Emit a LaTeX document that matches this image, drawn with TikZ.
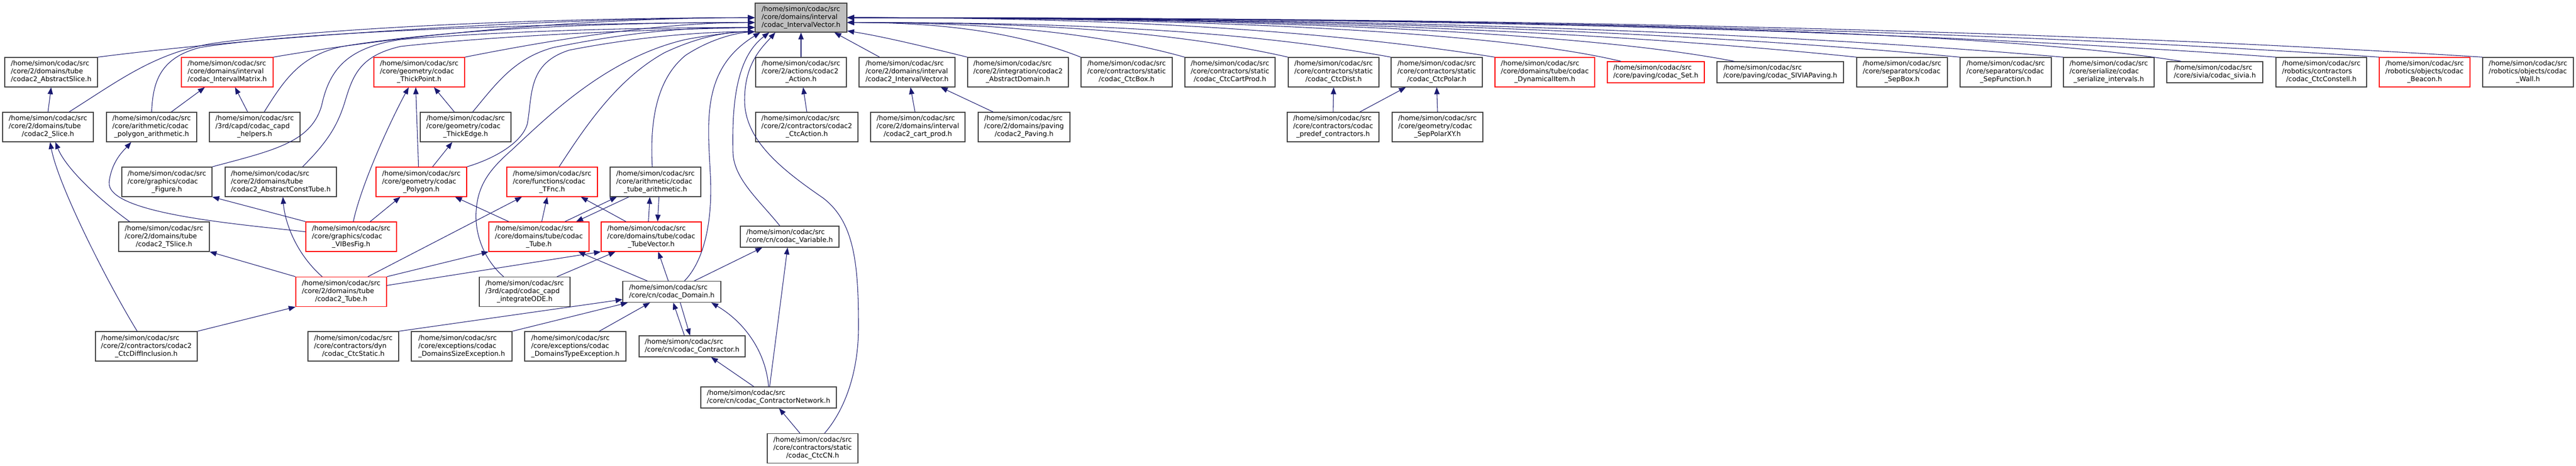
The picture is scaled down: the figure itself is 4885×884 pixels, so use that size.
\documentclass[tikz,border=0pt]{standalone}
\usepackage{fontspec}
\setmainfont{DejaVu Sans}
\usetikzlibrary{arrows.meta}
\definecolor{edgeblue}{RGB}{25,25,112}
\definecolor{boxgray}{RGB}{64,64,64}
\definecolor{rootfill}{RGB}{191,191,191}
\definecolor{boxred}{RGB}{255,0,0}
\newcommand{\lblfont}{\fontsize{9.6}{11.25}\selectfont}
\newcommand{\lblc}[3]{\begin{tabular}{@{}l@{}}#1\\#2\\\multicolumn{1}{@{}c@{}}{#3}\end{tabular}}
\newcommand{\lblb}[2]{\begin{tabular}{@{}l@{}}#1\\\multicolumn{1}{@{}c@{}}{#2}\end{tabular}}
\newcommand{\homesrc}{/home/simon/codac/src}
\tikzset{
  box/.style={draw=boxgray, fill=white, line width=1pt, inner sep=0pt, font=\lblfont},
  redbox/.style={box, draw=boxred},
  rootbox/.style={box, fill=rootfill},
  wh/.style 2 args={minimum width=#1*0.75pt, minimum height=#2*0.75pt},
  dep/.style={draw=edgeblue, line width=0.8pt, -{Triangle[length=9.75pt,width=7.5pt]}},
}
\begin{document}
\begin{tikzpicture}[x=0.75pt,y=-0.75pt]
\useasboundingbox (0,0) rectangle (4885,884);
% ---- row 0
\node[rootbox,wh={174}{55}] (root) at (1519,33.5) {\lblc{\homesrc}{/core/domains/interval}{/codac\_IntervalVector.h}};
% ---- row 1
\node[box,wh={176}{56}] (aslice) at (97,137) {\lblc{\homesrc}{/core/2/domains/tube}{/codac2\_AbstractSlice.h}};
\node[redbox,wh={174}{56}] (imat) at (431,137) {\lblc{\homesrc}{/core/domains/interval}{/codac\_IntervalMatrix.h}};
\node[redbox,wh={172}{56}] (tpoint) at (795,137) {\lblc{\homesrc}{/core/geometry/codac}{\_ThickPoint.h}};
\node[box,wh={172}{56}] (action) at (1519,137) {\lblc{\homesrc}{/core/2/actions/codac2}{\_Action.h}};
\node[box,wh={182}{56}] (iv2) at (1720,137) {\lblc{\homesrc}{/core/2/domains/interval}{/codac2\_IntervalVector.h}};
\node[box,wh={191}{56}] (adom) at (1930.5,137) {\lblc{\homesrc}{/core/2/integration/codac2}{\_AbstractDomain.h}};
\node[box,wh={173}{56}] (ctcbox) at (2136.5,137) {\lblc{\homesrc}{/core/contractors/static}{/codac\_CtcBox.h}};
\node[box,wh={171}{56}] (ctccart) at (2332.5,137) {\lblc{\homesrc}{/core/contractors/static}{/codac\_CtcCartProd.h}};
\node[box,wh={172}{56}] (ctcdist) at (2529,137) {\lblc{\homesrc}{/core/contractors/static}{/codac\_CtcDist.h}};
\node[box,wh={173}{56}] (ctcpolar) at (2724.5,137) {\lblc{\homesrc}{/core/contractors/static}{/codac\_CtcPolar.h}};
\node[redbox,wh={189}{56}] (dyn) at (2929.5,137) {\lblc{\homesrc}{/core/domains/tube/codac}{\_DynamicalItem.h}};
\node[redbox,wh={184}{40}] (set) at (3140,137) {\lblb{\homesrc}{/core/paving/codac\_Set.h}};
\node[box,wh={240}{40}] (siviap) at (3376,137) {\lblb{\homesrc}{/core/paving/codac\_SIVIAPaving.h}};
\node[box,wh={172}{56}] (sepbox) at (3607,137) {\lblc{\homesrc}{/core/separators/codac}{\_SepBox.h}};
\node[box,wh={173}{56}] (sepfun) at (3803.5,137) {\lblc{\homesrc}{/core/separators/codac}{\_SepFunction.h}};
\node[box,wh={172}{56}] (serial) at (3999,137) {\lblc{\homesrc}{/core/serialize/codac}{\_serialize\_intervals.h}};
\node[box,wh={182}{40}] (sivia) at (4200,137) {\lblb{\homesrc}{/core/sivia/codac\_sivia.h}};
\node[box,wh={172}{56}] (constell) at (4402,137) {\lblc{\homesrc}{/robotics/contractors}{/codac\_CtcConstell.h}};
\node[redbox,wh={172}{56}] (beacon) at (4598,137) {\lblc{\homesrc}{/robotics/objects/codac}{\_Beacon.h}};
\node[box,wh={172}{56}] (wall) at (4794,137) {\lblc{\homesrc}{/robotics/objects/codac}{\_Wall.h}};
% ---- row 2
\node[box,wh={172}{56}] (slice) at (91,241) {\lblc{\homesrc}{/core/2/domains/tube}{/codac2\_Slice.h}};
\node[box,wh={171}{56}] (polyar) at (287.5,241) {\lblc{\homesrc}{/core/arithmetic/codac}{\_polygon\_arithmetic.h}};
\node[box,wh={172}{56}] (helpers) at (483,241) {\lblc{\homesrc}{/3rd/capd/codac\_capd}{\_helpers.h}};
\node[box,wh={172}{56}] (tedge) at (883,241) {\lblc{\homesrc}{/core/geometry/codac}{\_ThickEdge.h}};
\node[box,wh={194}{56}] (ctcaction) at (1530,241) {\lblc{\homesrc}{/core/2/contractors/codac2}{\_CtcAction.h}};
\node[box,wh={179}{56}] (cart) at (1740.5,241) {\lblc{\homesrc}{/core/2/domains/interval}{/codac2\_cart\_prod.h}};
\node[box,wh={174}{56}] (paving) at (1942,241) {\lblc{\homesrc}{/core/2/domains/paving}{/codac2\_Paving.h}};
\node[box,wh={174}{56}] (predef) at (2528,241) {\lblc{\homesrc}{/core/contractors/codac}{\_predef\_contractors.h}};
\node[box,wh={172}{56}] (seppxy) at (2726,241) {\lblc{\homesrc}{/core/geometry/codac}{\_SepPolarXY.h}};
% ---- row 3
\node[box,wh={171}{56}] (figure) at (316.5,345) {\lblc{\homesrc}{/core/graphics/codac}{\_Figure.h}};
\node[box,wh={211}{56}] (actube) at (532.5,345) {\lblc{\homesrc}{/core/2/domains/tube}{/codac2\_AbstractConstTube.h}};
\node[redbox,wh={172}{56}] (polygon) at (799,345) {\lblc{\homesrc}{/core/geometry/codac}{\_Polygon.h}};
\node[redbox,wh={172}{56}] (tfnc) at (1047,345) {\lblc{\homesrc}{/core/functions/codac}{\_TFnc.h}};
\node[box,wh={172}{56}] (tubear) at (1243,345) {\lblc{\homesrc}{/core/arithmetic/codac}{\_tube\_arithmetic.h}};
% ---- row 4
\node[box,wh={172}{56}] (tslice) at (311,449) {\lblc{\homesrc}{/core/2/domains/tube}{/codac2\_TSlice.h}};
\node[redbox,wh={172}{56}] (vibes) at (666,449) {\lblc{\homesrc}{/core/graphics/codac}{\_VIBesFig.h}};
\node[redbox,wh={190}{56}] (tube) at (1022,449) {\lblc{\homesrc}{/core/domains/tube/codac}{\_Tube.h}};
\node[redbox,wh={190}{56}] (tubevec) at (1235,449) {\lblc{\homesrc}{/core/domains/tube/codac}{\_TubeVector.h}};
\node[box,wh={187}{40}] (var) at (1497.5,449) {\lblb{\homesrc}{/core/cn/codac\_Variable.h}};
% ---- row 5
\node[redbox,wh={172}{56}] (tube2) at (647,553.5) {\lblc{\homesrc}{/core/2/domains/tube}{/codac2\_Tube.h}};
\node[box,wh={172}{56}] (integ) at (995,553.5) {\lblc{\homesrc}{/3rd/capd/codac\_capd}{\_integrateODE.h}};
\node[box,wh={186}{40}] (domain) at (1274,553.5) {\lblb{\homesrc}{/core/cn/codac\_Domain.h}};
% ---- row 6
\node[box,wh={193}{56}] (diffinc) at (277.5,657) {\lblc{\homesrc}{/core/2/contractors/codac2}{\_CtcDiffInclusion.h}};
\node[box,wh={172}{56}] (ctcstatic) at (670,657) {\lblc{\homesrc}{/core/contractors/dyn}{/codac\_CtcStatic.h}};
\node[box,wh={191}{56}] (sizeexc) at (875.5,657) {\lblc{\homesrc}{/core/exceptions/codac}{\_DomainsSizeException.h}};
\node[box,wh={192}{56}] (typeexc) at (1091,657) {\lblc{\homesrc}{/core/exceptions/codac}{\_DomainsTypeException.h}};
\node[box,wh={201}{40}] (contractor) at (1312.5,657) {\lblb{\homesrc}{/core/cn/codac\_Contractor.h}};
% ---- row 7, 8
\node[box,wh={257}{40}] (cn) at (1457.5,754) {\lblb{\homesrc}{/core/cn/codac\_ContractorNetwork.h}};
\node[box,wh={172}{56}] (ctccn) at (1541,850.5) {\lblc{\homesrc}{/core/contractors/static}{/codac\_CtcCN.h}};

% ================= edges to root, left side
\draw[dep] (aslice.north east) .. controls (550,62) and (1100,33.5) .. (root.180);
\draw[dep] ([xshift=30pt]slice.north) .. controls (230,150) and (300,95) .. (420,80) .. controls (700,45) and (1150,33.5) .. (root.180);
\draw[dep] (imat.north east) .. controls (800,60) and (1150,33.5) .. (root.180);
\draw[dep] (polyar.north) .. controls (290,160) and (300,110) .. (380,90) .. controls (600,55) and (1150,42.6) .. (root.186);
\draw[dep] ([xshift=13.5pt]helpers.north) .. controls (540,150) and (570,105) .. (650,88) .. controls (850,55) and (1150,42.6) .. (root.186);
\draw[dep] (tpoint.north east) .. controls (1050,75) and (1250,42.6) .. (root.186);
\draw[dep] ([xshift=10pt]tedge.north) .. controls (940,160) and (975,110) .. (1050,90) .. controls (1200,60) and (1300,52) .. (root.192);
\draw[dep] (figure.north east) .. controls (520,285) and (590,270) .. (610,200) .. controls (625,130) and (660,90) .. (760,75) .. controls (1000,55) and (1300,52) .. (root.192);
\draw[dep] ([xshift=31pt]actube.north) .. controls (620,270) and (640,240) .. (655,190) .. controls (670,140) and (685,105) .. (760,88) .. controls (1000,62) and (1300,55) .. (root.192);
\draw[dep] (polygon.north east) .. controls (940,300) and (990,270) .. (1000,235) .. controls (1010,180) and (1000,120) .. (1080,95) .. controls (1250,62) and (1380,60) .. (root.197);
\draw[dep] ([xshift=-30pt]integ.north) .. controls (915,490) and (900,440) .. (903,400) .. controls (906,350) and (930,320) .. (970,285) .. controls (1040,220) and (1150,110) .. (1300,75) .. controls (1370,62) and (1410,60) .. (root.197);
\draw[dep] ([xshift=10pt]tfnc.north) .. controls (1110,240) and (1170,150) .. (1260,100) .. controls (1340,62) and (1400,60) .. (root.197);
\draw[dep] ([xshift=-4.5pt]tubear.north) .. controls (1232,230) and (1245,150) .. (1300,105) .. controls (1350,72) and (1400,62) .. (root.197);
\draw[dep] ([xshift=18pt]domain.north) .. controls (1335,495) and (1352,420) .. (1347,330) .. controls (1342,230) and (1330,130) .. (root.200);
\draw[dep] ([xshift=-14pt]var.north) .. controls (1440,380) and (1392,340) .. (1390,290) .. controls (1388,200) and (1395,110) .. (root.205);
\draw[dep] ([xshift=17pt]ctccn.north) .. controls (1600,780) and (1628,710) .. (1628,620) .. controls (1628,500) and (1620,420) .. (1560,375) .. controls (1480,320) and (1412,265) .. (1412,190) .. controls (1412,120) and (1445,90) .. (root.210);
\draw[dep] (action.north) -- (root.south);
% ================= edges to root, right side
\draw[dep] ([xshift=-39pt]iv2.north) -- (root.-24);
\draw[dep] (adom.north west) .. controls (1780,95) and (1680,70) .. (root.-16);
\draw[dep] (ctcbox.north west) .. controls (1917,56) and (1761,42.6) .. (root.-6);
\draw[dep] (ctccart.north west) .. controls (2055,55) and (1830,42.6) .. (root.-6);
\draw[dep] (ctcdist.north west) .. controls (2192,52) and (1899,42.6) .. (root.-6);
\draw[dep] (ctcpolar.north west) .. controls (2328,52) and (1967,42.6) .. (root.-6);
\draw[dep] (dyn.north west) .. controls (2466,50) and (2036,33.5) .. (root.0);
\draw[dep] ([xshift=20pt]set.north west) .. controls (2800,50) and (2120,33.5) .. (root.0);
\draw[dep] ([xshift=25pt]siviap.north west) .. controls (2950,50) and (2195,33.5) .. (root.0);
\draw[dep] (sepbox.north west) .. controls (2946,50) and (2276,33.5) .. (root.0);
\draw[dep] (sepfun.north west) .. controls (3084,50) and (2345,33.5) .. (root.0);
\draw[dep] (serial.north west) .. controls (3221,50) and (2413,33.5) .. (root.0);
\draw[dep] ([xshift=21pt]sivia.north west) .. controls (3700,45) and (2492,33.5) .. (root.0);
\draw[dep] (constell.north west) .. controls (3503,50) and (2555,33.5) .. (root.0);
\draw[dep] (beacon.north west) .. controls (3640,50) and (2623,33.5) .. (root.0);
\draw[dep] (wall.north west) .. controls (3777,50) and (2692,33.5) .. (root.0);
% ================= other edges
\draw[dep] (slice.north) -- (aslice.south);
\draw[dep] ([xshift=28pt]polyar.north) -- ([xshift=-32pt]imat.south);
\draw[dep] ([xshift=-10pt]helpers.north) -- ([xshift=11pt]imat.south);
\draw[dep] ([xshift=-16pt]tedge.north) -- ([xshift=21pt]tpoint.south);
\draw[dep] ([xshift=-4pt]polygon.north) -- ([xshift=-5pt]tpoint.south);
\draw[dep] ([xshift=3pt]vibes.north) .. controls (685,350) and (740,230) .. ([xshift=-15pt]tpoint.south);
\draw[dep] ([xshift=16pt]polygon.north) -- ([xshift=-19pt]tedge.south);
\draw[dep] ([xshift=-49pt]tslice.north) .. controls (190,380) and (125,320) .. ([xshift=10.5pt]slice.south);
\draw[dep] ([xshift=-13pt]diffinc.north) .. controls (200,530) and (110,350) .. ([xshift=3pt]slice.south);
\draw[dep] ([yshift=7pt]vibes.west) .. controls (450,425) and (200,405) .. (207,345) .. controls (212,305) and (235,285) .. ([xshift=-29pt]polyar.south);
\draw[dep] (vibes.north west) -- (figure.south east);
\draw[dep] ([xshift=27pt]vibes.north) -- ([xshift=-30pt]polygon.south);
\draw[dep] ([xshift=-43pt]tube.north) -- ([xshift=48pt]polygon.south);
\draw[dep] ([xshift=-27pt]tube2.north) .. controls (560,480) and (540,420) .. ([xshift=3pt]actube.south);
\draw[dep] (tube2.north west) -- (tslice.south east);
\draw[dep] ([xshift=38pt]tube2.north) -- ([xshift=-43pt]tfnc.south);
\draw[dep] (tube2.north east) -- (tube.south west);
\draw[dep] ([yshift=9pt]tube2.east) -- (tubevec.south west);
\draw[dep] (diffinc.north east) -- (tube2.south west);
\draw[dep] ([xshift=4pt]tube.north) -- ([xshift=-7pt]tfnc.south);
\draw[dep] ([xshift=-36pt]tubevec.north) -- ([xshift=41pt]tfnc.south);
\draw[dep] ([xshift=37pt]tube.north) -- ([xshift=-55pt]tubear.south);
\draw[dep] ([xshift=-38pt]tubear.south) -- ([xshift=53pt]tube.north);
\draw[dep] ([xshift=-4pt]tubevec.north) -- ([xshift=-8pt]tubear.south);
\draw[dep] ([xshift=5pt]tubear.south) -- ([xshift=9pt]tubevec.north);
\draw[dep] ([xshift=46pt]integ.north) -- ([xshift=-51pt]tubevec.south);
\draw[dep] ([xshift=-35pt]domain.north) -- ([xshift=56pt]tube.south);
\draw[dep] ([xshift=-5pt]domain.north) -- ([xshift=10pt]tubevec.south);
\draw[dep] ([xshift=32pt]domain.north) -- ([xshift=-39pt]var.south);
\draw[dep] (ctcstatic.north east) -- ([yshift=-11pt]domain.west);
\draw[dep] (sizeexc.north east) -- ([xshift=7.5pt]domain.south west);
\draw[dep] ([xshift=34pt]typeexc.north) -- ([xshift=-31pt]domain.south);
\draw[dep] ([xshift=-11pt]contractor.north) -- ([xshift=2pt]domain.south);
\draw[dep] ([xshift=12pt]domain.south) -- ([xshift=-3pt]contractor.north);
\draw[dep] (cn.north) .. controls (1452,665) and (1410,610) .. ([xshift=-14pt]domain.south east);
\draw[dep] ([xshift=1.5pt]cn.north) -- ([xshift=-3pt]var.south);
\draw[dep] ([xshift=-21pt]cn.north) -- ([xshift=27pt]contractor.south);
\draw[dep] ([xshift=-18pt]ctccn.north) -- ([xshift=15pt]cn.south);
\draw[dep] (ctcaction.north) -- ([xshift=3pt]action.south);
\draw[dep] ([xshift=-4pt]cart.north) -- ([xshift=5pt]iv2.south);
\draw[dep] ([xshift=-44pt]paving.north) -- ([xshift=48pt]iv2.south);
\draw[dep] (predef.north) -- (ctcdist.south);
\draw[dep] ([xshift=38pt]predef.north) -- ([xshift=-44pt]ctcpolar.south);
\draw[dep] (seppxy.north) -- (ctcpolar.south);
\end{tikzpicture}
\end{document}
